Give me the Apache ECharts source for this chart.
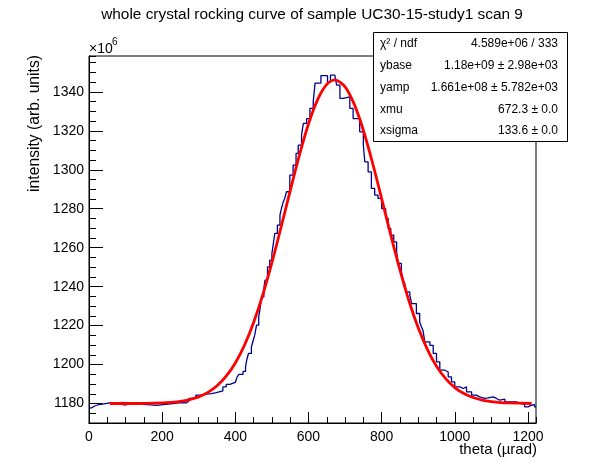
<!DOCTYPE html>
<html>
<head>
<meta charset="utf-8">
<script src="https://cdn.jsdelivr.net/npm/echarts@6/dist/echarts.min.js"></script>
<style>
  html, body { margin: 0; padding: 0; background: #fff; }
  #chart { width: 596px; height: 472px; }
</style>
</head>
<body>
<div id="chart"></div>
<script>
// histogram bins: lower edge (urad) and content (x10^6)
var binLow = [0, 8, 14, 27, 41, 60, 82, 93, 101, 109, 142, 148, 170, 185, 202, 230, 250, 266, 273, 292,
  310, 320, 335, 348, 366, 375, 385, 400, 405, 410, 421, 428, 431, 436, 444, 449, 453, 458, 464, 467,
  472, 478, 481, 488, 494, 500, 504, 508, 515, 522, 526, 531, 535, 540, 549, 558, 566, 572, 581, 586,
  595, 604, 613, 618, 634, 652, 660, 672, 677, 686, 695, 713, 722, 740, 750, 754, 763, 772, 781, 790,
  800, 811, 818, 825, 833, 841, 845, 854, 859, 863, 868, 877, 882, 895, 904, 909, 913, 918, 932, 941,
  950, 959, 973, 982, 991, 1000, 1014, 1023, 1032, 1046, 1059, 1068, 1082, 1091, 1105, 1114, 1123, 1137, 1150, 1168,
  1182, 1191, 1200, 1209, 1218];
var binValue = [1177.8, 1178.6, 1179.5, 1179.8, 1180.5, 1180.3, 1180.6, 1179.3, 1179.8, 1180.0, 1179.6, 1179.3, 1179.0, 1179.4, 1180.0, 1180.5, 1180.3, 1181.3, 1182.6, 1184.3,
  1184.8, 1185.1, 1185.6, 1186.5, 1188.5, 1189.8, 1190.8, 1191.6, 1193.7, 1195.0, 1196.5, 1198.8, 1202.2, 1205.7, 1209.0, 1212.5, 1215.1, 1220.2, 1224.5, 1227.9,
  1234.7, 1239.0, 1243.3, 1250.1, 1253.6, 1257.0, 1262.2, 1267.3, 1271.6, 1276.7, 1280.1, 1283.5, 1285.3, 1288.7, 1297.2, 1302.4, 1308.4, 1312.6, 1317.8, 1323.8,
  1326.3, 1331.5, 1335.0, 1344.5, 1348.3, 1345.0, 1348.6, 1349.3, 1343.4, 1336.6, 1337.4, 1331.5, 1326.3, 1319.5, 1312.6, 1304.1, 1298.9, 1290.4, 1287.0, 1285.3,
  1280.1, 1275.0, 1269.9, 1266.4, 1263.0, 1257.8, 1251.9, 1247.6, 1243.3, 1241.6, 1237.3, 1235.6, 1231.3, 1226.2, 1221.8, 1219.3, 1217.6, 1211.6, 1209.9, 1205.7,
  1201.4, 1197.1, 1196.2, 1193.7, 1191.1, 1188.5, 1187.7, 1188.5, 1186.0, 1184.3, 1183.4, 1182.6, 1182.9, 1183.4, 1182.6, 1181.7, 1182.2, 1180.8, 1180.8, 1180.0,
  1179.5, 1178.3, 1179.0, 1179.5, 1178.3];
var thetaMax = 1222;

// fitted curve
var fitTheta = [57, 100, 150, 200, 225, 250, 275, 300, 325, 350, 375, 400, 425, 450, 475, 500, 525, 550, 575, 600,
  625, 650, 672, 700, 725, 750, 775, 800, 825, 850, 875, 900, 925, 950, 975, 1000, 1025, 1050, 1075, 1100,
  1125, 1150, 1210];
var fitIntensity = [1180.0, 1180.0, 1180.1, 1180.3, 1180.6, 1181.1, 1182.0, 1183.4, 1185.7, 1189.1, 1194.0, 1200.8, 1209.9, 1221.6, 1235.8, 1252.3, 1270.5, 1289.2, 1307.4, 1323.5,
  1336.0, 1343.8, 1346.1, 1342.6, 1333.7, 1320.3, 1303.6, 1285.2, 1266.4, 1248.6, 1232.5, 1218.9, 1207.8, 1199.1, 1192.8, 1188.2, 1185.1, 1183.1, 1181.8, 1181.0,
  1180.5, 1180.3, 1180.0];

var xMajor = [0, 200, 400, 600, 800, 1000, 1200];
var yMajor = [1180, 1200, 1220, 1240, 1260, 1280, 1300, 1320, 1340];

var statNames = ['χ² / ndf', 'ybase', 'yamp', 'xmu', 'xsigma'];
var statValues = ['4.589e+06 / 333', '1.18e+09 ± 2.98e+03', '1.661e+08 ± 5.782e+03', '672.3 ± 0.0', '133.6 ± 0.0'];

var FONT = '"Liberation Sans", Arial, Helvetica, sans-serif';

var histData = [];
for (var i = 0; i < binLow.length; i++) histData.push([binLow[i], binValue[i]]);
histData.push([thetaMax, binValue[binValue.length - 1]]);

var fitData = [];
for (var j = 0; j < fitTheta.length; j++) fitData.push([fitTheta[j], fitIntensity[j]]);

// plain numbers, no thousands separator
var plain = function (v) { return String(v); };

// stats box
var box = { x: 373, y: 32, w: 194, h: 109 };
var graphics = [
  { type: 'text', x: 312, y: 7, style: { text: 'whole crystal rocking curve of sample UC30-15-study1 scan 9', font: '15.4px ' + FONT, fill: '#000', align: 'center' } },
  { type: 'text', x: 89, y: 42, style: { text: '×10', font: '14px ' + FONT, fill: '#000' } },
  { type: 'text', x: 112, y: 37, style: { text: '6', font: '10px ' + FONT, fill: '#000' } },
  { type: 'text', x: 27, y: 55, rotation: Math.PI / 2, style: { text: 'intensity (arb. units)', font: '15.7px ' + FONT, fill: '#000', align: 'right', verticalAlign: 'top' } },
  { type: 'text', x: 537, y: 442, style: { text: 'theta (µrad)', font: '15px ' + FONT, fill: '#000', align: 'right', verticalAlign: 'top' } },
  { type: 'rect', shape: { x: box.x + 0.5, y: box.y + 0.5, width: box.w, height: box.h }, style: { fill: '#fff', stroke: '#000', lineWidth: 1 }, z: 10 }
];
var rowH = box.h / statNames.length;
for (var k = 0; k < statNames.length; k++) {
  var cy = box.y + rowH * (k + 0.5) + 1;
  graphics.push({ type: 'text', x: box.x + 7, y: cy, z: 11, style: { text: statNames[k], font: '12px ' + FONT, fill: '#000', verticalAlign: 'middle' } });
  graphics.push({ type: 'text', x: box.x + box.w - 9, y: cy, z: 11, style: { text: statValues[k], font: '12px ' + FONT, fill: '#000', align: 'right', verticalAlign: 'middle' } });
}

var chart = echarts.init(document.getElementById('chart'));
chart.setOption({
  animation: false,
  backgroundColor: '#fff',
  grid: { left: 89, top: 56, width: 447, height: 367, show: true, borderColor: '#000', borderWidth: 1, backgroundColor: 'transparent' },
  xAxis: [{
    type: 'value', min: 0, max: thetaMax, interval: 200,
    axisLine: { lineStyle: { color: '#000', width: 1 } },
    axisTick: { inside: true, length: 11, customValues: xMajor, lineStyle: { color: '#000' } },
    axisLabel: { customValues: xMajor, formatter: plain, color: '#000', fontSize: 14, fontFamily: FONT, margin: 7 },
    splitLine: { show: false }
  }, {
    // minor ticks
    type: 'value', min: 0, max: thetaMax, interval: 50, position: 'bottom', offset: 0,
    axisLine: { show: true, lineStyle: { color: '#000', width: 1 } },
    axisTick: { show: true, inside: true, length: 6, lineStyle: { color: '#000' } },
    axisLabel: { show: false },
    splitLine: { show: false }
  }],
  yAxis: [{
    type: 'value', min: 1170, max: 1358.4, interval: 10,
    axisLine: { show: true, lineStyle: { color: '#000', width: 1 } },
    axisTick: { show: true, inside: true, length: 14, customValues: yMajor, lineStyle: { color: '#000' } },
    axisLabel: { customValues: yMajor, formatter: plain, color: '#000', fontSize: 14, fontFamily: FONT, margin: 5 },
    splitLine: { show: false }
  }, {
    // minor ticks
    type: 'value', min: 1170, max: 1358.4, interval: 5, position: 'left', offset: 0,
    axisLine: { show: true, lineStyle: { color: '#000', width: 1 } },
    axisTick: { show: true, inside: true, length: 7, lineStyle: { color: '#000' } },
    axisLabel: { show: false },
    splitLine: { show: false }
  }],
  series: [{
    type: 'line', xAxisIndex: 0, yAxisIndex: 0, step: 'end', data: histData,
    symbol: 'none', lineStyle: { color: '#00008f', width: 1.3 }, z: 2
  }, {
    type: 'line', xAxisIndex: 0, yAxisIndex: 0, data: fitData, smooth: 0.3,
    symbol: 'none', lineStyle: { color: '#ff0000', width: 2.8 }, z: 3
  }, {
    type: 'line', xAxisIndex: 1, yAxisIndex: 1, data: [], symbol: 'none'
  }],
  graphic: graphics
});
</script>
</body>
</html>
